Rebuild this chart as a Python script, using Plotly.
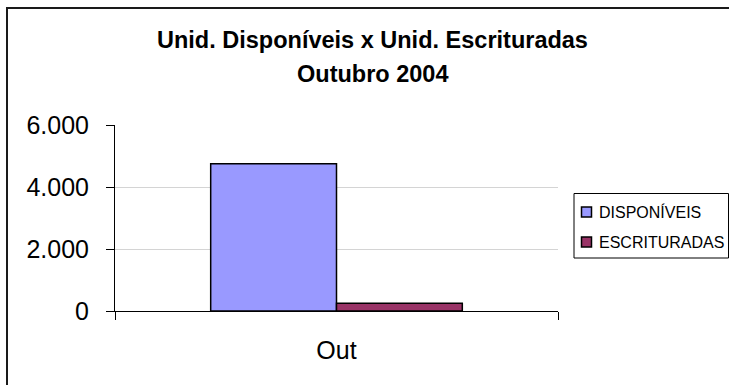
import plotly.graph_objects as go

# ---- data ----
categories = ["Out"]
series_names = ["DISPONÍVEIS", "ESCRITURADAS"]
disponiveis = [4750]
escrituradas = [250]
y_ticks = [0, 2000, 4000, 6000]
title_lines = ["Unid. Disponíveis x Unid. Escrituradas", "Outubro 2004"]

# ---- style / layout ----
W, H = 729, 385
L, R, T, B = 115, 558, 125, 311
colors = ["#9999FF", "#993366"]
FONT = "Liberation Sans, Arial, sans-serif"


def px(x):
    return (x - L) / (R - L)


def py(y):
    return (B - y) / (B - T)


fig = go.Figure()
for name, vals, col in zip(series_names, [disponiveis, escrituradas], colors):
    fig.add_trace(go.Bar(
        x=categories, y=vals, name=name,
        marker=dict(color=col, line=dict(color="#000000", width=1.5)),
        showlegend=False,
    ))

shapes = [
    # outer chart frame
    dict(type="rect", xref="paper", yref="paper",
         x0=px(7), x1=px(740), y0=py(8), y1=py(395),
         line=dict(color="#1a1a1a", width=2), fillcolor="rgba(0,0,0,0)", layer="below"),
    # legend box
    dict(type="rect", xref="paper", yref="paper",
         x0=px(574), x1=px(728.5), y0=py(193.5), y1=py(258),
         line=dict(color="#000000", width=1), fillcolor="white"),
]
annotations = [
    dict(text="<b>%s</b>" % title_lines[0], xref="paper", yref="paper",
         x=px(372), y=py(40), xanchor="center", yanchor="middle", showarrow=False,
         font=dict(family=FONT, size=23.5, color="#000000")),
    dict(text="<b>%s</b>" % title_lines[1], xref="paper", yref="paper",
         x=px(372), y=py(73.5), xanchor="center", yanchor="middle", showarrow=False,
         font=dict(family=FONT, size=23.5, color="#000000")),
]
leg_y = [212, 242]
for name, col, yy in zip(series_names, colors, leg_y):
    shapes.append(dict(type="rect", xref="paper", yref="paper",
                       x0=px(581.5), x1=px(591.5), y0=py(yy - 5), y1=py(yy + 5),
                       fillcolor=col, line=dict(color="#000000", width=1.5)))
    annotations.append(dict(text=name, xref="paper", yref="paper",
                            x=px(597), y=py(yy), xanchor="left", yanchor="middle",
                            showarrow=False,
                            font=dict(family=FONT, size=16, color="#000000")))

fig.update_layout(
    width=W, height=H,
    margin=dict(l=L, r=W - R, t=T, b=H - B, pad=0),
    paper_bgcolor="white", plot_bgcolor="white",
    barmode="group", bargap=0.432, bargroupgap=0,
    separators=",.",
    font=dict(family=FONT, color="#000000"),
    shapes=shapes, annotations=annotations,
    xaxis=dict(range=[-0.5, 0.5], tickson="boundaries", ticks="outside", ticklen=8,
               tickcolor="#000000", showline=True, linecolor="#000000", linewidth=1,
               showgrid=False, ticklabelstandoff=17,
               tickfont=dict(family=FONT, size=25), fixedrange=True),
    yaxis=dict(range=[0, 6000], tickvals=y_ticks, tickformat=",d", ticks="outside",
               ticklen=8, tickcolor="#000000", showline=True, linecolor="#000000",
               linewidth=1, showgrid=True, gridcolor="#d4d4d4", gridwidth=1,
               zeroline=False, ticklabelstandoff=12,
               tickfont=dict(family=FONT, size=25), fixedrange=True),
)

fig.write_html("out.html", config=dict(displayModeBar=False))
